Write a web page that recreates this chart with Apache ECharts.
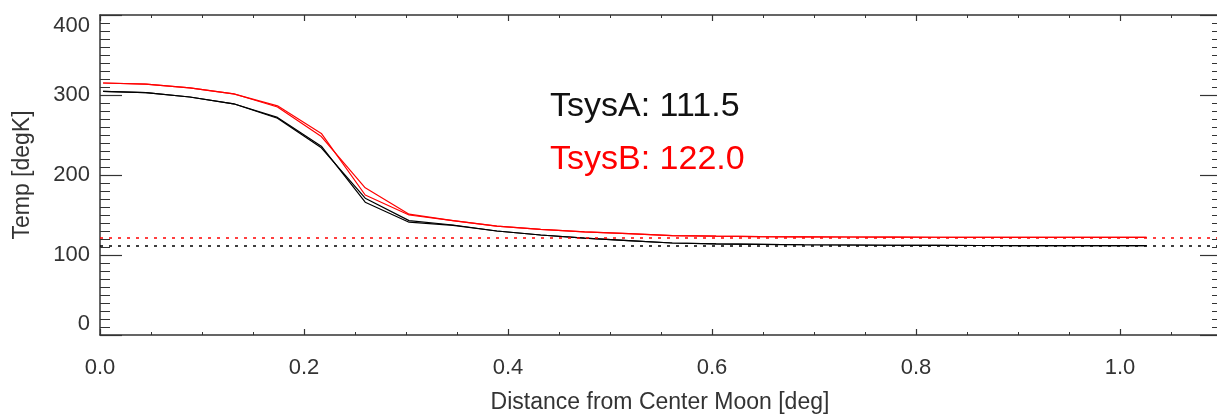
<!DOCTYPE html>
<html>
<head>
<meta charset="utf-8">
<script src="https://cdn.jsdelivr.net/npm/echarts@6/dist/echarts.min.js"></script>
<style>html,body{margin:0;padding:0;background:#fff;}#c{width:1217px;height:414px;}</style>
</head>
<body>
<div id="c"></div>
<script>
// ---- data ----
const dist   = [0.003, 0.045, 0.088, 0.131, 0.174, 0.217, 0.260, 0.303, 0.346, 0.389, 0.432, 0.475, 0.518, 0.561, 0.604, 0.647, 0.690, 0.733, 0.776, 0.819, 0.862, 0.905, 0.948, 0.991, 1.026];
const tempA1 = [304.5, 303, 297.5, 289, 271, 234, 171, 143, 137.5, 130, 125, 121, 118, 115, 114, 113.3, 112.8, 112.5, 112.2, 112.0, 111.9, 111.8, 111.7, 111.7, 111.6];
const tempA2 = [304.5, 303, 297.5, 289, 272, 236, 166, 141, 137, 130, 125, 121, 118, 115, 114, 113.3, 112.8, 112.5, 112.2, 112.0, 111.9, 111.8, 111.7, 111.7, 111.6];
const tempB1 = [315, 313.5, 309, 301.5, 285, 248, 184, 151, 143, 136, 132, 128.8, 126.7, 124.2, 123.5, 123, 122.7, 122.5, 122.3, 122.2, 122.1, 122.1, 122.0, 122.0, 122.0];
const tempB2 = [315, 313.5, 309, 301.5, 286.5, 252, 175, 150, 143, 136, 132, 128.8, 126.7, 124.2, 123.5, 123, 122.7, 122.5, 122.3, 122.2, 122.1, 122.1, 122.0, 122.0, 122.0];
const tsysA = 111.5;
const tsysB = 122.0;
const xTickLabels = ['0.0', '0.2', '0.4', '0.6', '0.8', '1.0'];
const yTickLabels = ['0', '100', '200', '300', '400'];
const xTitle = 'Distance from Center Moon [deg]';
const yTitle = 'Temp [degK]';

const pairs = (xs, ys) => xs.map((x, i) => [x, ys[i]]);
const FONT = 'Liberation Sans, Arial, Helvetica, sans-serif';
const AX = '#333';

const chart = echarts.init(document.getElementById('c'), null, {renderer: 'canvas'});

const lineSeries = (data, color) => ({
  type: 'line', xAxisIndex: 0, yAxisIndex: 0, data, showSymbol: false, symbol: 'none',
  smooth: false, silent: true, animation: false,
  lineStyle: {color, width: 1.2}
});

chart.setOption({
  animation: false,
  backgroundColor: '#fff',
  grid: [
    {left: 100, right: -107, top: 15, bottom: 79, containLabel: false, outerBoundsMode: 'none'},
    {left: 100, right: -5, top: 15, bottom: 79, containLabel: false, outerBoundsMode: 'none'}
  ],
  xAxis: [
    {
      gridIndex: 0, type: 'value', position: 'bottom', min: 0, max: 1.2, interval: 0.2,
      axisLine: {show: true, onZero: false, lineStyle: {color: AX, width: 1.5}},
      axisTick: {show: true, inside: true, length: 6, lineStyle: {color: AX, width: 1.2}},
      minorTick: {show: true, splitNumber: 4, length: 3, lineStyle: {color: AX, width: 1}},
      splitLine: {show: false}, minorSplitLine: {show: false},
      axisLabel: {
        show: true, margin: 22, fontSize: 22, fontFamily: FONT, color: '#333',
        formatter: v => { const i = Math.round(v / 0.2); return (Math.abs(v - i * 0.2) < 1e-6 && i < xTickLabels.length) ? xTickLabels[i] : ''; },
        showMaxLabel: false
      },
      name: xTitle, nameLocation: 'middle', nameGap: 56,
      nameTextStyle: {fontSize: 23, fontFamily: FONT, color: '#333', padding: [0, 104, 0, 0]}
    },
    {
      gridIndex: 0, type: 'value', position: 'top', min: 0, max: 1.2, interval: 0.2,
      axisLine: {show: true, onZero: false, lineStyle: {color: AX, width: 1.5}},
      axisTick: {show: true, inside: true, length: 6, lineStyle: {color: AX, width: 1.2}},
      minorTick: {show: true, splitNumber: 4, length: 3, lineStyle: {color: AX, width: 1}},
      splitLine: {show: false}, axisLabel: {show: false}
    },
    {
      gridIndex: 1, type: 'value', min: 0, max: 1.1, show: false
    }
  ],
  yAxis: [
    {
      gridIndex: 0, type: 'value', position: 'left', min: 0, max: 400, interval: 100,
      axisLine: {show: true, onZero: false, lineStyle: {color: AX, width: 1.5}},
      axisTick: {show: true, inside: true, length: 22, lineStyle: {color: AX, width: 1.2}},
      minorTick: {show: true, splitNumber: 10, length: 10, lineStyle: {color: AX, width: 1}},
      splitLine: {show: false}, minorSplitLine: {show: false},
      axisLabel: {
        show: true, margin: 10, fontSize: 22, fontFamily: FONT, color: '#333',
        formatter: v => yTickLabels[Math.round(v / 100)] || '',
        verticalAlignMinLabel: 'bottom', verticalAlignMaxLabel: 'top'
      },
      name: yTitle, nameLocation: 'middle', nameGap: 66, nameRotate: 90,
      nameTextStyle: {fontSize: 23, fontFamily: FONT, color: '#333'}
    },
    {
      gridIndex: 1, type: 'value', position: 'right', min: 0, max: 400, interval: 100,
      axisLine: {show: false, onZero: false},
      axisTick: {show: true, inside: true, length: 22, lineStyle: {color: AX, width: 1.2}},
      minorTick: {show: true, splitNumber: 10, length: 10, lineStyle: {color: AX, width: 1}},
      splitLine: {show: false}, axisLabel: {show: false}
    }
  ],
  series: [
    Object.assign(lineSeries(pairs(dist, tempA1), '#000'), {
      markLine: {
        silent: true, symbol: 'none', label: {show: false}, animation: false,
        lineStyle: {color: '#000', width: 1.5, type: [3, 6]},
        data: [{yAxis: tsysA}]
      }
    }),
    lineSeries(pairs(dist, tempA2), '#000'),
    Object.assign(lineSeries(pairs(dist, tempB1), '#ff0000'), {
      markLine: {
        silent: true, symbol: 'none', label: {show: false}, animation: false,
        lineStyle: {color: '#ff0000', width: 1.5, type: [3, 6]},
        data: [{yAxis: tsysB}]
      }
    }),
    lineSeries(pairs(dist, tempB2), '#ff0000')
  ],
  graphic: [
    {type: 'text', x: 550, y: 107, silent: true,
     style: {text: 'TsysA: ' + tsysA.toFixed(1), font: '34px ' + FONT, fill: '#111', verticalAlign: 'middle', textVerticalAlign: 'middle'}},
    {type: 'text', x: 550, y: 160, silent: true,
     style: {text: 'TsysB: ' + tsysB.toFixed(1), font: '34px ' + FONT, fill: '#ff0000', verticalAlign: 'middle', textVerticalAlign: 'middle'}}
  ]
});
</script>
</body>
</html>
